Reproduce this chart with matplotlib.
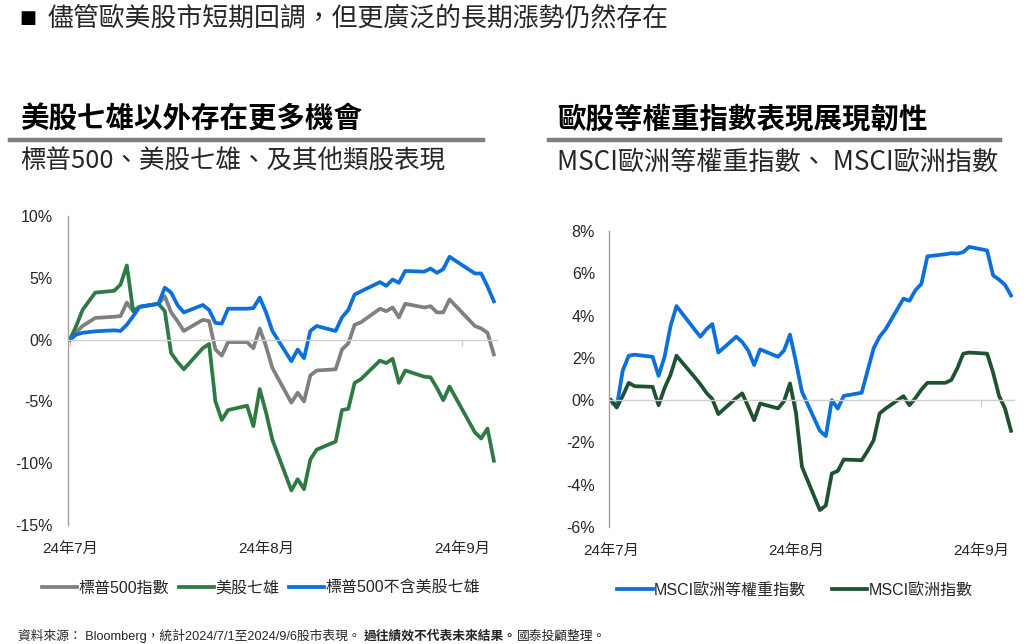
import matplotlib
matplotlib.use('Agg')
import matplotlib.pyplot as plt
import matplotlib.dates as mdates
from matplotlib.lines import Line2D
import pandas as pd

plt.rcParams['font.family'] = ['Liberation Sans', 'Noto Sans CJK TC']

# ---- data (cumulative return, %) ----
us_days = ['07-01', '07-02', '07-03', '07-05', '07-08', '07-09', '07-10', '07-11', '07-12',
           '07-15', '07-16', '07-17', '07-18', '07-19', '07-22', '07-23', '07-24', '07-25',
           '07-26', '07-29', '07-30', '07-31', '08-01', '08-02', '08-05', '08-06', '08-07',
           '08-08', '08-09', '08-12', '08-13', '08-14', '08-15', '08-16', '08-19', '08-20',
           '08-21', '08-22', '08-23', '08-26', '08-27', '08-28', '08-29', '08-30', '09-03',
           '09-04', '09-05', '09-06']
spx = [0, 0.6, 1.1, 1.75, 1.85, 1.9, 3.0, 2.3, 2.65, 2.9, 3.5, 2.2, 1.5, 0.7, 1.6, 1.5,
       -0.8, -1.3, -0.2, -0.2, -0.7, 0.9, -0.55, -2.3, -5.1, -4.3, -5.0, -2.9, -2.5, -2.4,
       -0.8, -0.3, 1.2, 1.4, 2.5, 2.3, 2.6, 1.8, 2.9, 2.6, 2.7, 2.2, 2.2, 3.25, 1.1, 0.9,
       0.55, -1.2]
mag7 = [0, 1.1, 2.4, 3.8, 3.95, 4.45, 6.0, 2.3, 2.65, 2.9, 2.3, -1.1, -1.8, -2.4, -0.7,
        -0.35, -5.0, -6.5, -5.7, -5.35, -7.0, -4.0, -5.9, -8.1, -12.2, -11.3, -12.1, -9.7,
        -8.9, -8.25, -5.7, -5.6, -3.5, -3.2, -1.7, -1.9, -1.55, -3.5, -2.5, -3.0, -3.05,
        -3.9, -4.9, -3.8, -7.5, -8.0, -7.2, -9.8]
spx_ex = [0, 0.4, 0.55, 0.67, 0.75, 0.7, 1.2, 1.9, 2.65, 2.9, 4.2, 3.8, 2.8, 2.2, 2.8, 2.4,
          1.35, 1.3, 2.5, 2.5, 2.55, 3.4, 2.2, 0.7, -1.75, -0.8, -1.5, 0.7, 1.1, 0.7, 1.8,
          2.4, 3.65, 3.9, 4.65, 4.35, 4.86, 4.6, 5.55, 5.5, 5.75, 5.4, 5.7, 6.7, 5.35, 5.35,
          4.3, 3.1]

eu_days = ['07-01', '07-02', '07-03', '07-04', '07-05', '07-08', '07-09', '07-10', '07-11',
           '07-12', '07-15', '07-16', '07-17', '07-18', '07-19', '07-22', '07-23', '07-24',
           '07-25', '07-26', '07-29', '07-30', '07-31', '08-01', '08-02', '08-05', '08-06',
           '08-07', '08-08', '08-09', '08-12', '08-13', '08-14', '08-15', '08-16', '08-19',
           '08-20', '08-21', '08-22', '08-23', '08-26', '08-27', '08-28', '08-29', '08-30',
           '09-02', '09-03', '09-04', '09-05', '09-06']
eu_ew = [0, -0.3, 1.4, 2.1, 2.15, 2.05, 1.15, 2.05, 3.5, 4.45, 3.35, 3.0, 3.35, 3.6, 2.25,
         3.0, 2.75, 2.35, 1.66, 2.4, 2.05, 2.35, 3.1, 1.8, 0.4, -1.45, -1.7, 0.0, -0.4, 0.2,
         0.35, 1.4, 2.45, 3.0, 3.35, 4.8, 4.7, 5.2, 5.5, 6.8, 6.9, 6.95, 6.93, 7.0, 7.25,
         7.08, 5.9, 5.7, 5.45, 4.95]
eu_idx = [0, -0.35, 0.2, 0.82, 0.66, 0.63, -0.24, 0.57, 1.2, 2.1, 1.1, 0.75, 0.35, 0.05,
          -0.66, 0.1, 0.32, -0.3, -0.95, -0.16, -0.39, -0.05, 0.79, -0.6, -3.15, -5.2, -4.98,
          -3.47, -3.35, -2.81, -2.84, -2.4, -1.9, -0.63, -0.4, 0.19, -0.24, 0.1, 0.5, 0.82,
          0.82, 0.95, 1.5, 2.2, 2.25, 2.2, 1.3, 0.2, -0.4, -1.45]

month_labels = ['24年7月', '24年8月', '24年9月']
months = pd.to_datetime(['2024-07-01', '2024-08-01', '2024-09-01'])

us_dates = pd.to_datetime(['2024-' + d for d in us_days])
eu_dates = pd.to_datetime(['2024-' + d for d in eu_days])

GRAY = '#808080'
GREEN = '#2f7a44'
DGREEN = '#1f5230'
BLUE = '#0b6fdc'
TXT = '#262626'

fig = plt.figure(figsize=(10.24, 6.44), dpi=100)
W, H = 1024, 644


def setup(ax, yticks, ypad):
    x0 = mdates.date2num(pd.Timestamp('2024-07-01')) - 0.3
    x1 = mdates.date2num(pd.Timestamp('2024-09-06')) + 0.5
    ax.set_xlim(x0, x1)
    ax.set_ylim(yticks[0], yticks[-1])
    for s in ['top', 'right']:
        ax.spines[s].set_visible(False)
    ax.spines['left'].set_color('#a0a0a0')
    ax.spines['left'].set_linewidth(1)
    ax.spines['bottom'].set_position(('data', 0))
    ax.spines['bottom'].set_color('#d0d0d0')
    ax.spines['bottom'].set_linewidth(1)
    ax.set_xticks(mdates.date2num(months))
    ax.tick_params(axis='x', direction='out', length=4, color='#c8c8c8', labelbottom=False)
    ax.set_yticks(yticks)
    ax.set_yticklabels([f'{v}%' for v in yticks])
    ax.tick_params(axis='y', length=0, pad=ypad, labelsize=11.5, labelcolor=TXT)
    sec = ax.secondary_xaxis('bottom')
    sec.set_xticks(mdates.date2num(months))
    sec.set_xticklabels(month_labels)
    sec.tick_params(length=0, pad=12, labelsize=11, labelcolor=TXT)
    sec.spines['bottom'].set_visible(False)


# ---- left chart ----
ax1 = fig.add_axes([68 / W, 1 - 525 / H, (497 - 68) / W, (525 - 216) / H])
l1, = ax1.plot(mdates.date2num(us_dates), spx, color=GRAY, lw=2.7, label='標普500指數')
l2, = ax1.plot(mdates.date2num(us_dates), mag7, color=GREEN, lw=2.7, label='美股七雄')
l3, = ax1.plot(mdates.date2num(us_dates), spx_ex, color=BLUE, lw=2.7, label='標普500不含美股七雄')
setup(ax1, list(range(-15, 11, 5)), 11)

# ---- right chart ----
ax2 = fig.add_axes([609 / W, 1 - 527 / H, (1014 - 609) / W, (527 - 231) / H])
r1, = ax2.plot(mdates.date2num(eu_dates), eu_ew, color=BLUE, lw=2.7, label='MSCI歐洲等權重指數')
r2, = ax2.plot(mdates.date2num(eu_dates), eu_idx, color=DGREEN, lw=2.7, label='MSCI歐洲指數')
setup(ax2, list(range(-6, 9, 2)), 10)

fig.legend(handles=[l1, l2, l3], loc='center', bbox_to_anchor=(261 / W, 1 - 588 / H), ncol=3,
           frameon=False, fontsize=11.5, handlelength=2.2, handletextpad=0.1, columnspacing=0.6,
           labelcolor=TXT)
fig.legend(handles=[r1, r2], loc='center', bbox_to_anchor=(795 / W, 1 - 590 / H), ncol=2,
           frameon=False, fontsize=11.5, handlelength=2.2, handletextpad=0.1, columnspacing=1.6,
           labelcolor=TXT)

# ---- titles ----
cjk = ['Noto Sans CJK TC']
fig.text(19 / W, 1 - 18 / H, '■', fontsize=13, va='center', ha='left', color='black', family=['DejaVu Sans'])
fig.text(48 / W, 1 - 18 / H, '儘管歐美股市短期回調，但更廣泛的長期漲勢仍然存在', fontsize=18.6,
         va='center', ha='left', color=TXT, family=cjk)

fig.text(20 / W, 1 - 120 / H, '美股七雄以外存在更多機會', fontsize=20.5, fontweight='bold',
         va='center', ha='left', color='black', family=cjk)
fig.text(557 / W, 1 - 120 / H, '歐股等權重指數表現展現韌性', fontsize=20.5, fontweight='bold',
         va='center', ha='left', color='black', family=cjk)
fig.add_artist(Line2D([10 / W, 483 / W], [1 - 140 / H] * 2, color='#7f7f7f', lw=3.2))
fig.add_artist(Line2D([549 / W, 1000 / W], [1 - 140 / H] * 2, color='#7f7f7f', lw=3.2))
fig.text(20 / W, 1 - 162 / H, '標普500、美股七雄、及其他類股表現', fontsize=18.4,
         va='center', ha='left', color=TXT, family=cjk)
fig.text(557 / W, 1 - 162 / H, 'MSCI歐洲等權重指數、 MSCI歐洲指數', fontsize=18.8,
         va='center', ha='left', color=TXT, family=cjk)

# ---- footnote ----
axn = fig.add_axes([0, 0, 1, 1])
axn.axis('off')
t1 = axn.text(18 / W, 1 - 636 / H, '資料來源： Bloomberg，統計2024/7/1至2024/9/6股市表現。 ',
              fontsize=9.2, va='center', ha='left', color=TXT)
t2 = axn.annotate('過往績效不代表未來結果。', xy=(1, 0.5), xycoords=t1, va='center', ha='left',
                  fontsize=9.2, fontweight='bold', color=TXT, family=cjk)
axn.annotate('國泰投顧整理。', xy=(1, 0.5), xycoords=t2, va='center', ha='left',
             fontsize=9.2, color=TXT, family=cjk)

fig.savefig('out.png', dpi=100)
